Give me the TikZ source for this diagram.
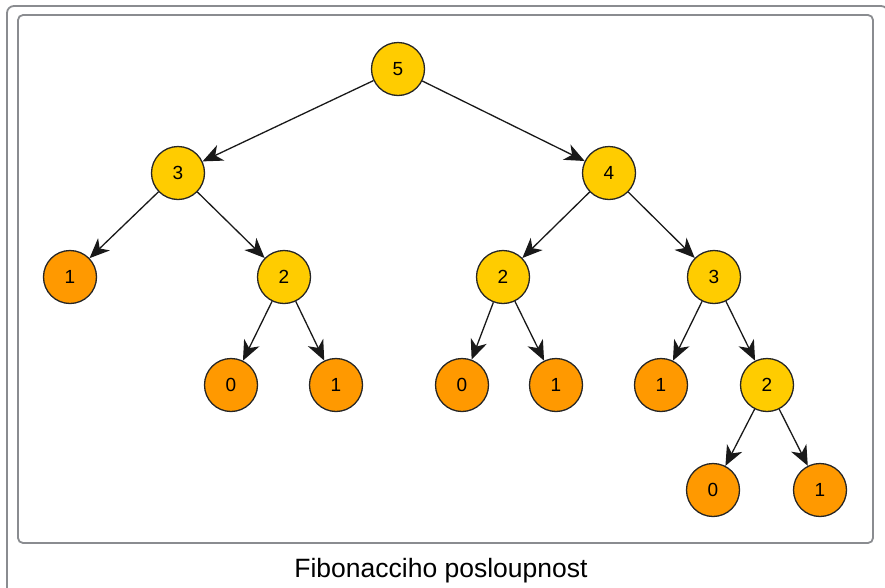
\documentclass[tikz,border=0pt]{standalone}
\usepackage{fontspec}
\setmainfont{Liberation Sans}
\usetikzlibrary{arrows.meta}
\definecolor{ynode}{RGB}{255,204,0}
\definecolor{onode}{RGB}{255,153,0}
\definecolor{framegray}{RGB}{138,140,144}
\begin{document}
\begin{tikzpicture}[x=1pt,y=-1pt,
  fib/.style={circle,draw=black!85,line width=1.3pt,minimum size=53pt,inner sep=0pt,font=\fontsize{19}{19}\selectfont},
  yel/.style={fib,fill=ynode},
  ora/.style={fib,fill=onode},
  conn/.style={draw=black!90,line width=1.3pt,-{Stealth[length=20pt,width=17pt,inset=6pt]}},
  frame/.style={draw=framegray,line width=1.8pt,rounded corners=7pt}]
\useasboundingbox (0,0) rectangle (885,587);
\clip (0,0) rectangle (885,587);
\draw[frame] (7,6) rectangle (888,600);
\draw[frame,rounded corners=5pt] (18,15) rectangle (873,543);
\node[font=\fontsize{26.5}{26.5}\selectfont,anchor=base] (cap) at (441,577) {Fibonacciho posloupnost};
\node[yel] (n5) at (398,69) {5};
\node[yel] (n3a) at (178,173) {3};
\node[yel] (n4) at (609,173) {4};
\node[ora] (n1a) at (70,277) {1};
\node[yel] (n2a) at (284,277) {2};
\node[yel] (n2b) at (503,277) {2};
\node[yel] (n3b) at (714,277) {3};
\node[ora] (n0a) at (231,385) {0};
\node[ora] (n1b) at (336,385) {1};
\node[ora] (n0b) at (462,385) {0};
\node[ora] (n1c) at (556,385) {1};
\node[ora] (n1d) at (661,385) {1};
\node[yel] (n2c) at (767,385) {2};
\node[ora] (n0c) at (713,490) {0};
\node[ora] (n1e) at (820,490) {1};
\draw[conn] (n5) -- (n3a);
\draw[conn] (n5) -- (n4);
\draw[conn] (n3a) -- (n1a);
\draw[conn] (n3a) -- (n2a);
\draw[conn] (n2a) -- (n0a);
\draw[conn] (n2a) -- (n1b);
\draw[conn] (n4) -- (n2b);
\draw[conn] (n4) -- (n3b);
\draw[conn] (n2b) -- (n0b);
\draw[conn] (n2b) -- (n1c);
\draw[conn] (n3b) -- (n1d);
\draw[conn] (n3b) -- (n2c);
\draw[conn] (n2c) -- (n0c);
\draw[conn] (n2c) -- (n1e);
\end{tikzpicture}
\end{document}
